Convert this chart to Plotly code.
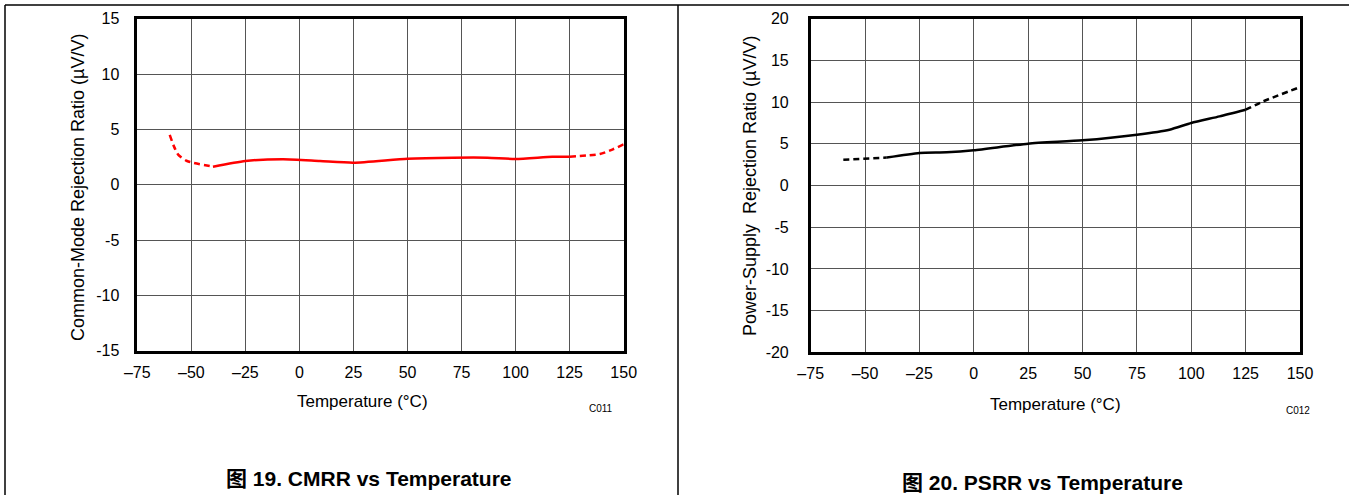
import plotly.graph_objects as go

W, H = 1349, 495

# CMRR vs temperature (uV/V)
cmrr_temp = [-60, -58, -56, -52, -40, -25, -7.5, 9.5, 25, 50, 71, 87, 100, 117, 125, 139, 145, 150]
cmrr_val = [4.5, 3.44, 2.69, 2.14, 1.63, 2.14, 2.30, 2.14, 1.99, 2.35, 2.44, 2.44, 2.32, 2.53, 2.53, 2.77, 3.2, 3.65]

# PSRR vs temperature (uV/V)
psrr_temp = [-60, -40, -25, -12.5, 0, 25, 50, 75, 90, 100, 113, 125, 133, 150]
psrr_val = [3.1, 3.35, 3.9, 3.98, 4.22, 5.02, 5.42, 6.10, 6.70, 7.50, 8.29, 9.09, 10.08, 11.8]

x_ticks = [-75, -50, -25, 0, 25, 50, 75, 100, 125, 150]
x_labels = ["\u201375", "\u201350", "\u201325", "0", "25", "50", "75", "100", "125", "150"]
cmrr_yticks = [-15, -10, -5, 0, 5, 10, 15]
psrr_yticks = [-20, -15, -10, -5, 0, 5, 10, 15, 20]

FONT = "Liberation Sans, Arial, sans-serif"


def px(x):
    return x / W


def py(y):
    return 1 - y / H


def segments(temps, vals, lo, hi):
    # split a curve into dashed (outside lo..hi) and solid parts
    parts = []
    a = [i for i, t in enumerate(temps) if t <= lo]
    b = [i for i, t in enumerate(temps) if lo <= t <= hi]
    c = [i for i, t in enumerate(temps) if t >= hi]
    for idx, dash in ((a, "6px,4px"), (b, "solid"), (c, "6px,4px")):
        parts.append(([temps[i] for i in idx], [vals[i] for i in idx], dash))
    return parts


fig = go.Figure()

for (xs, ys, dash) in segments(cmrr_temp, cmrr_val, -40, 125):
    fig.add_trace(go.Scatter(x=xs, y=ys, mode="lines", xaxis="x", yaxis="y",
                             line=dict(color="#ff0000", width=2.5, dash=dash,
                                       shape="spline", smoothing=0.6),
                             showlegend=False, hoverinfo="skip"))

for (xs, ys, dash) in segments(psrr_temp, psrr_val, -40, 125):
    fig.add_trace(go.Scatter(x=xs, y=ys, mode="lines", xaxis="x2", yaxis="y2",
                             line=dict(color="#000000", width=2.5, dash=dash,
                                       shape="spline", smoothing=0.6),
                             showlegend=False, hoverinfo="skip"))

axis_common = dict(
    showline=True, linecolor="black", linewidth=2.5, mirror=True,
    showgrid=True, gridcolor="#555555", gridwidth=1, zeroline=False,
    ticks="outside", tickcolor="rgba(0,0,0,0)", automargin=False,
    tickfont=dict(family=FONT, size=16, color="black"),
)

fig.update_layout(
    width=W, height=H,
    margin=dict(l=0, r=0, t=0, b=0),
    paper_bgcolor="white", plot_bgcolor="white",
    xaxis=dict(axis_common, domain=[px(137.3), px(623.7)], range=[-75, 150],
               tickvals=x_ticks, ticktext=x_labels, ticklen=5, anchor="y"),
    yaxis=dict(axis_common, domain=[py(350.7), py(18.7)], range=[-15, 15],
               tickvals=cmrr_yticks, ticktext=[str(v) for v in cmrr_yticks],
               ticklen=12, anchor="x"),
    xaxis2=dict(axis_common, domain=[px(810.7), px(1300)], range=[-75, 150],
                tickvals=x_ticks, ticktext=x_labels, ticklen=5, anchor="y2"),
    yaxis2=dict(axis_common, domain=[py(352.4), py(18.7)], range=[-20, 20],
                tickvals=psrr_yticks, ticktext=[str(v) for v in psrr_yticks],
                ticklen=16, anchor="x2"),
)

# table borders of the page
border = dict(color="black", width=1.5)
fig.add_shape(type="line", xref="paper", yref="paper", x0=px(5), x1=1, y0=py(5), y1=py(5), line=border)
fig.add_shape(type="line", xref="paper", yref="paper", x0=px(5), x1=px(5), y0=py(5), y1=0, line=border)
fig.add_shape(type="line", xref="paper", yref="paper", x0=px(678), x1=px(678), y0=py(5), y1=0, line=border)

texts = [
    # (text, x, y, size, angle)
    ("Temperature (\u00b0C)", 362.5, 401.5, 17, 0),
    ("Temperature (\u00b0C)", 1055, 404, 17, 0),
    ("Common-Mode Rejection Ratio (\u00b5V/V)", 78, 188, 18, -90),
    ("Power-Supply  Rejection Ratio (\u00b5V/V)", 750, 185, 18, -90),
    ("C011", 601, 408, 10, 0),
    ("C012", 1298, 410, 10, 0),
    ("<b>\u56fe 19. CMRR vs Temperature</b>", 369, 478, 21, 0),
    ("<b>\u56fe 20. PSRR vs Temperature</b>", 1042, 482, 21, 0),
]
for t, x, y, size, ang in texts:
    fig.add_annotation(text=t, x=px(x), y=py(y), xref="paper", yref="paper",
                       showarrow=False, textangle=ang,
                       xanchor="center", yanchor="middle",
                       font=dict(family=FONT + ", Noto Sans CJK SC", size=size, color="black"))

# drop the default 8px body margin so the figure sits at the window's corner
fig.write_html("out.html", config={"displayModeBar": False},
               post_script="document.body.style.margin='0';")
